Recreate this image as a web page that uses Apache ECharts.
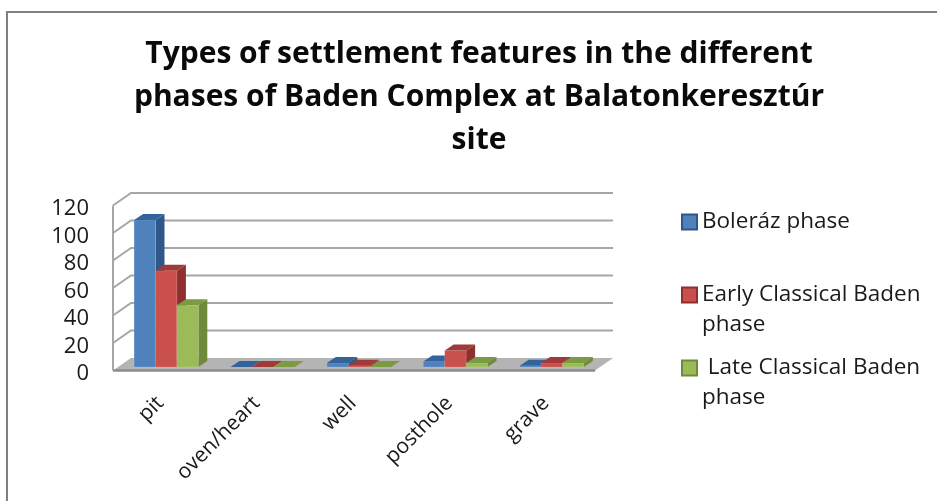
<!DOCTYPE html>
<html>
<head>
<meta charset="utf-8">
<style>html,body{margin:0;padding:0;background:#fff}#c{width:937px;height:501px;filter:blur(0.5px)}</style>
<script src="https://cdn.jsdelivr.net/npm/echarts@6/dist/echarts.min.js"></script>
</head>
<body>
<div id="c"></div>
<script>
var titleText = 'Types of settlement features in the different\nphases of Baden Complex at Balatonkeresztúr\nsite';
var categories = ['pit', 'oven/heart', 'well', 'posthole', 'grave'];
var tickValues = [0, 20, 40, 60, 80, 100, 120];
var boleraz = [107, 0, 3, 4, 1];
var earlyBaden = [70, 0, 1, 12, 3];
var lateBaden = [45, 0, 0, 3, 3];
var names = ['Boleráz phase', 'Early Classical Baden phase', ' Late Classical Baden phase'];
var legendLines = {};
legendLines[names[0]] = 'Boleráz phase';
legendLines[names[1]] = ' \nEarly Classical Baden\nphase';
legendLines[names[2]] = ' \n Late Classical Baden\nphase';

var FONT = '"Open Sans", "Noto Sans", sans-serif';
var BAR_W = 21.4, BAR_SHIFT = 6, DEPTH_X = 9, DEPTH_Y = 6;
var BACK_X = 19, BACK_Y = 9, FRONT_X = 1, FRONT_Y = 3.5;

function barRenderer(seriesIndex, front, side, top) {
  return function (params, api) {
    var c = params.dataIndex, v = api.value(1);
    var p0 = api.coord([c, 0]), p1 = api.coord([c, v]);
    var xl = p0[0] + BAR_SHIFT + (seriesIndex - 1.5) * BAR_W, xr = xl + BAR_W;
    var yb = p0[1], yt = p1[1];
    var kids = [];
    if (yb - yt > 0.5) {
      kids.push({ type: 'polygon', shape: { points: [[xr, yb], [xr + DEPTH_X, yb - DEPTH_Y], [xr + DEPTH_X, yt - DEPTH_Y], [xr, yt]] }, style: { fill: side } });
      kids.push({ type: 'rect', shape: { x: xl, y: yt, width: BAR_W, height: yb - yt },
        style: { fill: front, stroke: 'rgba(255,255,255,0.25)', lineWidth: 0.5 } });
    }
    kids.push({ type: 'polygon', shape: { points: [[xl, yt], [xl + DEPTH_X, yt - DEPTH_Y], [xr + DEPTH_X, yt - DEPTH_Y], [xr, yt]] }, style: { fill: top } });
    return { type: 'group', children: kids };
  };
}

function barSeries(i, data, front, side, top) {
  return {
    type: 'custom', name: names[i], z: 5 + i,
    data: data.map(function (v, k) { return [k, v]; }),
    encode: { x: 0, y: 1 },
    itemStyle: { color: front, borderColor: side, borderWidth: 0.5 },
    renderItem: barRenderer(i, front, side, top)
  };
}

var chart = echarts.init(document.getElementById('c'), null, { renderer: 'canvas' });
chart.setOption({
  animation: false,
  backgroundColor: '#fff',
  title: {
    text: titleText, left: 474, top: 28, textAlign: 'center',
    textStyle: { fontFamily: FONT, fontWeight: 700, fontSize: 30, lineHeight: 43, color: '#0a0a0a' }
  },
  legend: [
    { data: [names[0]], top: 207, left: 681 },
    { data: [names[1]], top: 250, left: 681 },
    { data: [names[2]], top: 323, left: 681 }
  ].map(function (l) {
    l.orient = 'vertical'; l.itemWidth = 15; l.itemHeight = 15; l.itemGap = 7; l.padding = 0;
    l.icon = 'rect'; l.selectedMode = false;
    l.formatter = function (n) { return legendLines[n]; };
    l.textStyle = { fontFamily: FONT, fontSize: 22.5, lineHeight: 30, color: '#1a1a1a' };
    return l;
  }),
  grid: { left: 112, width: 482, top: 202, height: 165 },
  xAxis: {
    type: 'category', data: categories,
    axisLine: { show: false }, axisTick: { show: false }, splitLine: { show: false },
    axisLabel: { rotate: 45, margin: 33, fontFamily: FONT, fontSize: 21, color: '#1a1a1a', interval: 0 }
  },
  yAxis: {
    type: 'value', min: 0, max: 120, interval: 20,
    axisLine: { show: false }, axisTick: { show: false }, splitLine: { show: false },
    axisLabel: { margin: 23, verticalAlign: 'top', lineHeight: 14, fontFamily: FONT, fontSize: 22, color: '#1a1a1a' }
  },
  graphic: [{
    type: 'polyline', silent: true, z: 0,
    shape: { points: [[7, 501], [7, 12], [937, 12]] },
    style: { fill: 'none', stroke: '#808080', lineWidth: 2 }
  }],
  series: [
    {
      type: 'custom', name: 'floor', z: 1, silent: true,
      data: [[0, 0]], encode: { x: 0, y: 1 },
      renderItem: function (params, api) {
        var g = params.coordSys, y0 = api.coord([0, 0])[1];
        var xa = g.x + FRONT_X, xb = g.x + g.width + FRONT_X, yf = y0 + FRONT_Y;
        var yk = y0 - BACK_Y, d = BACK_X - FRONT_X;
        return { type: 'group', children: [
          { type: 'polygon', shape: { points: [[xa, yf], [xa + d, yk], [xb + d, yk], [xb, yf]] }, style: { fill: '#b4b4b4' } },
          { type: 'line', shape: { x1: xa, y1: yf, x2: xb, y2: yf }, style: { stroke: '#8c8c8c', lineWidth: 2.5 } },
          { type: 'line', shape: { x1: xa, y1: yf, x2: xa, y2: api.coord([0, 120])[1] + FRONT_Y }, style: { stroke: '#a6a6a6', lineWidth: 2 } }
        ] };
      }
    },
    {
      type: 'custom', name: 'walls', z: 2, silent: true,
      data: tickValues.slice(1).map(function (v) { return [0, v]; }), encode: { x: 0, y: 1 },
      renderItem: function (params, api) {
        var g = params.coordSys, y = api.coord([0, api.value(1)])[1];
        return { type: 'polyline', shape: { points: [
          [g.x + FRONT_X, y + FRONT_Y], [g.x + BACK_X, y - BACK_Y], [g.x + g.width + BACK_X, y - BACK_Y]
        ] }, style: { fill: 'none', stroke: '#a6a6a6', lineWidth: 2 } };
      }
    },
    barSeries(0, boleraz, '#4F81BD', '#30578a', '#34639c'),
    barSeries(1, earlyBaden, '#C9504C', '#8f3030', '#a03a38'),
    barSeries(2, lateBaden, '#9BBB59', '#6f8a3a', '#7b9a42')
  ]
});
</script>
</body>
</html>
